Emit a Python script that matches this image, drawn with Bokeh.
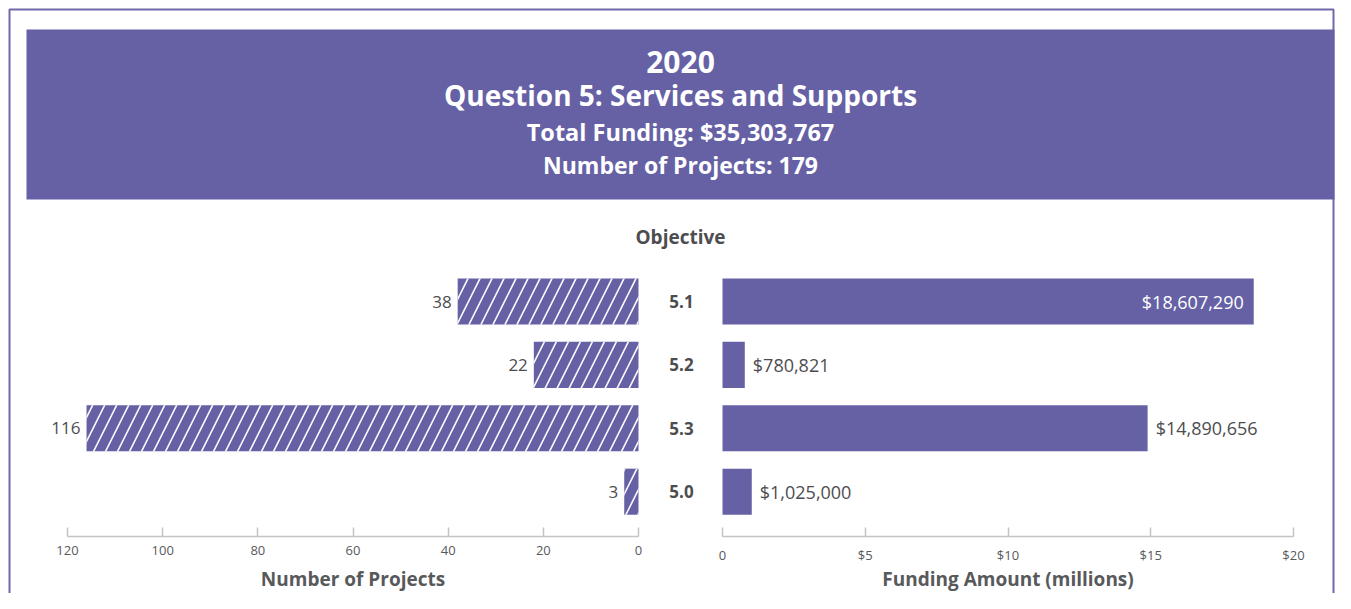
from bokeh.plotting import figure
from bokeh.models import Range1d, LinearAxis, FixedTicker, ColumnDataSource
from bokeh.core.properties import value
from bokeh.embed import file_html
from bokeh.resources import INLINE

# ---------------- data ----------------
year = "2020"
question = "Question 5: Services and Supports"
section_label = "Objective"
objectives = ["5.1", "5.2", "5.3", "5.0"]
projects = [38, 22, 116, 3]
funding = [18607290, 780821, 14890656, 1025000]
proj_ticks = [0, 20, 40, 60, 80, 100, 120]
fund_ticks = [0, 5, 10, 15, 20]
fund_tick_labels = ["0", "$5", "$10", "$15", "$20"]
proj_axis_title = "Number of Projects"
fund_axis_title = "Funding Amount (millions)"

# ---------------- style ----------------
W, H = 1335, 593
PURPLE = "#6661a5"
BORDER = "#6e68aa"
GRAY = "#58595b"
DARK = "#4d4d4f"
AXIS = "#c4c4c4"
FONT = "Open Sans"
CX = 680  # centre line of the titles

p = figure(width=W, height=H, output_backend="svg", toolbar_location=None,
           x_range=Range1d(0, W), y_range=Range1d(H, 0),
           x_axis_type=None, y_axis_type=None, min_border=0,
           outline_line_color=None, background_fill_color="white",
           border_fill_color="white")

# scales for the two panels (screen px inside the figure)
proj_zero_px, proj_max_px = 638, 67
fund_zero_px, fund_max_px = 722, 1293
ps = (proj_zero_px - proj_max_px) / proj_ticks[-1]
fs = (fund_max_px - fund_zero_px) / fund_ticks[-1]
p.extra_x_ranges["proj"] = Range1d(proj_zero_px / ps, (proj_zero_px - W) / ps)
p.extra_x_ranges["fund"] = Range1d(-fund_zero_px / fs, (W - fund_zero_px) / fs)
row_px0, row_step = 301, 63.4
p.extra_y_ranges["rows"] = Range1d((H - row_px0) / row_step, -row_px0 / row_step)

# ---------------- frame & header ----------------
p.quad(left=9, right=W - 2, top=9, bottom=H + 40, fill_color=None,
       line_color=BORDER, line_width=2)
p.quad(left=26, right=1334, top=29, bottom=199, fill_color=PURPLE, line_color=None)

total_funding = sum(funding)
total_projects = sum(projects)
p.text(x=[CX], y=[61], text=[year], text_font=value(FONT), text_font_style="bold",
       text_font_size="30px", text_color="white", text_align="center", text_baseline="middle")
p.text(x=[CX], y=[94], text=[question], text_font=value(FONT), text_font_style="bold",
       text_font_size="28px", text_color="white", text_align="center", text_baseline="middle")
p.text(x=[CX, CX], y=[131, 164],
       text=[f"Total Funding: ${total_funding:,}", f"Number of Projects: {total_projects}"],
       text_font=value(FONT), text_font_style="bold", text_font_size=["23.5px", "23px"],
       text_color="white", text_align="center", text_baseline="middle")
p.text(x=[CX], y=[236], text=[section_label], text_font=value(FONT), text_font_style="bold",
       text_font_size="19px", text_color=DARK, text_align="center", text_baseline="middle")

# ---------------- bars ----------------
rows = list(range(len(objectives)))
fund_m = [f / 1e6 for f in funding]
inside = [f == max(funding) for f in funding]
src = ColumnDataSource(dict(
    row=rows, obj=objectives, proj=projects, fund=fund_m,
    projlab=[str(v) for v in projects],
    fundlab=[f"${f:,}" for f in funding],
    fcolor=["white" if i else DARK for i in inside],
    fofs=[-10 if i else 8 for i in inside],
    falign=["right" if i else "left" for i in inside],
))

p.hbar(y="row", left=0, right="proj", height=0.727, source=src,
       x_range_name="proj", y_range_name="rows",
       fill_color=PURPLE, line_color=None,
       hatch_pattern="/", hatch_color="white", hatch_scale=24, hatch_weight=1.6)
p.hbar(y="row", left=0, right="fund", height=0.727, source=src,
       x_range_name="fund", y_range_name="rows",
       fill_color=PURPLE, line_color=None)

p.text(x="proj", y="row", text="projlab", source=src, x_range_name="proj", y_range_name="rows",
       x_offset=-6, text_align="right", text_baseline="middle",
       text_font=value(FONT), text_font_size="17px", text_color=DARK)
p.text(x="fund", y="row", text="fundlab", source=src, x_range_name="fund", y_range_name="rows",
       x_offset="fofs", text_align="falign", text_baseline="middle",
       text_font=value(FONT), text_font_size="18px", text_color="fcolor")
p.text(x=0, y="row", text="obj", source=src, x_range_name="fund", y_range_name="rows",
       x_offset=-41, text_align="center", text_baseline="middle",
       text_font=value(FONT), text_font_style="bold", text_font_size="17px", text_color=DARK)

# ---------------- axes ----------------
def style_axis(ax):
    ax.axis_line_color = AXIS
    ax.axis_line_width = 1.5
    ax.major_tick_line_color = AXIS
    ax.major_tick_line_width = 1.5
    ax.major_tick_in = 9
    ax.major_tick_out = 0
    ax.minor_tick_in = 0
    ax.minor_tick_out = 0
    ax.minor_tick_line_color = None
    ax.major_label_text_font = FONT
    ax.major_label_text_font_size = "13px"
    ax.major_label_text_color = GRAY
    ax.major_label_standoff = 9

axl = LinearAxis(x_range_name="proj", bounds=(proj_ticks[0], proj_ticks[-1]),
                 ticker=FixedTicker(ticks=proj_ticks), fixed_location=536)
style_axis(axl)
p.add_layout(axl, "below")

axr = LinearAxis(x_range_name="fund", bounds=(fund_ticks[0], fund_ticks[-1]),
                 ticker=FixedTicker(ticks=fund_ticks), fixed_location=536,
                 major_label_overrides={t: l for t, l in zip(fund_ticks, fund_tick_labels)})
style_axis(axr)
p.add_layout(axr, "below")

# axis titles, centred under each axis
p.text(x=[(proj_ticks[0] + proj_ticks[-1]) / 2], y=[578], text=[proj_axis_title],
       x_range_name="proj", text_font=value(FONT), text_font_style="bold",
       text_font_size="19px", text_color=GRAY, text_align="center", text_baseline="middle")
p.text(x=[(fund_ticks[0] + fund_ticks[-1]) / 2], y=[578], text=[fund_axis_title],
       x_range_name="fund", text_font=value(FONT), text_font_style="bold",
       text_font_size="19px", text_color=GRAY, text_align="center", text_baseline="middle")

open("out.html", "w").write(file_html(p, INLINE))
